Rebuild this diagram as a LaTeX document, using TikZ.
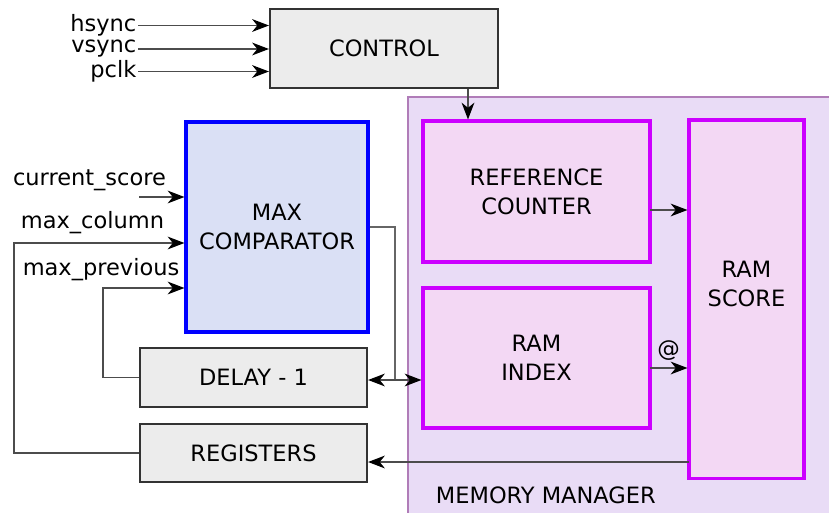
\documentclass[tikz,border=0pt]{standalone}
\usepackage{fontspec}
\setmainfont{DejaVu Sans}
\usepackage{xcolor}
\usepackage{tikz}
\usetikzlibrary{arrows.meta,positioning}

\definecolor{greyfill}{HTML}{ECECEC}
\definecolor{maxfill}{HTML}{DAE0F5}
\definecolor{mgrfill}{HTML}{E9DCF6}
\definecolor{mgrline}{HTML}{B07CB8}
\definecolor{ramfill}{HTML}{F3D8F4}
\definecolor{ramline}{HTML}{CC00FF}

\begin{document}
\begin{tikzpicture}[
  x=0.025cm, y=-0.025cm,
  font=\fontsize{16}{20.5}\selectfont,
  block/.style={draw=black!80, fill=greyfill, line width=1.5pt,
    align=center, inner sep=0pt},
  maxblock/.style={block, draw=blue, fill=maxfill, line width=2.2pt},
  ramblock/.style={block, draw=ramline, fill=ramfill, line width=2.2pt},
  flow/.style={-{Stealth[length=4.2mm, width=3.2mm, inset=1.3mm, color=black]},
    line width=0.8pt, draw=black!70},
  both/.style={flow, {Stealth[length=4.2mm, width=3.2mm, inset=1.3mm, color=black]}-{Stealth[length=4.2mm, width=3.2mm, inset=1.3mm, color=black]}},
  wire/.style={line width=0.8pt, draw=black!60},
  signal/.style={inner sep=1pt}
]
\useasboundingbox (0,0) rectangle (829,513);

% memory manager area
\node[draw=mgrline, fill=mgrfill, line width=0.9pt,
  minimum width=10.8cm, minimum height=10.575cm] (mgr) at (624,308.5) {};
\node[anchor=west] (mgrlbl) at (431,495) {MEMORY MANAGER};

% blocks
\node[block, minimum width=5.7cm, minimum height=1.975cm] (ctrl) at (384,48.5) {CONTROL};
\node[maxblock, minimum width=4.55cm, minimum height=5.25cm] (maxc) at (277,227) {MAX\\COMPARATOR};
\node[block, minimum width=5.675cm, minimum height=1.475cm] (delay) at (253.5,377.5) {DELAY - 1};
\node[block, minimum width=5.675cm, minimum height=1.45cm] (regs) at (253.5,453) {REGISTERS};
\node[ramblock, minimum width=5.675cm, minimum height=3.525cm] (refc) at (536.5,191.5) {REFERENCE\\COUNTER};
\node[ramblock, minimum width=5.675cm, minimum height=3.5cm] (ramidx) at (536.5,358) {RAM\\INDEX};
\node[ramblock, minimum width=2.875cm, minimum height=8.95cm] (score) at (746.5,299) {};
\node[align=center] (scorelbl) at (746.5,284) {RAM\\SCORE};

% inputs of the control
\node[signal, anchor=east] (hsync) at (138,25.5) {hsync};
\node[signal, anchor=east] (vsync) at (138,49) {vsync};
\node[signal, anchor=east] (pclk) at (138,71.5) {pclk};
\draw[flow] (hsync.east) -- (hsync.east -| ctrl.west);
\draw[flow] (vsync.east) -- (vsync.east -| ctrl.west);
\draw[flow] (pclk.east) -- (pclk.east -| ctrl.west);
\draw[flow] (ctrl.south -| 468,0) -- (refc.north -| 468,0);

% inputs of the comparator
\node (curlbl) at (89.5,180) {current\_score};
\node (collbl) at (92.5,223) {max\_column};
\node (prevlbl) at (101,270) {max\_previous};
\coordinate (cur) at (139,197);
\coordinate (mcol) at (14,243);
\coordinate (mprev) at (103,288);
\draw[flow] (cur) -- (cur -| maxc.west);
\draw[flow] (regs.west) -| (mcol) -- (mcol -| maxc.west);
\draw[flow] (delay.west) -| (mprev) -- (mprev -| maxc.west);

% comparator output
\coordinate (split) at (395,380);
\draw[wire] (maxc.east) -| (split);
\draw[both] (split -| delay.east) -- (split -| ramidx.west);

% memory manager links
\coordinate (refout) at (650,210);
\coordinate (idxout) at (650,368);
\coordinate (scout) at (689,462);
\draw[flow] (refout) -- (refout -| score.west);
\draw[flow] (idxout) -- node[above, inner sep=5pt] {@} (idxout -| score.west);
\draw[flow] (scout) -- (scout -| regs.east);
\end{tikzpicture}
\end{document}
